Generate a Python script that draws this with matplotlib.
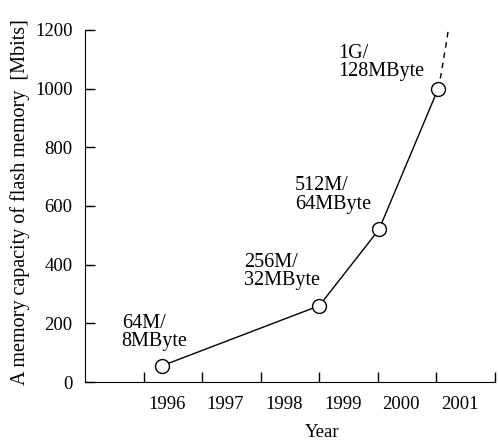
import matplotlib
matplotlib.use("Agg")
import matplotlib.pyplot as plt

plt.rcParams["font.family"] = ["Liberation Serif", "DejaVu Serif"]

# data
years = ["1996", "1997", "1998", "1999", "2000", "2001"]
point_x = [1.31, 4.0, 5.02, 6.03]
capacity = [55, 260, 520, 1000]
point_labels = ["64M/\n8MByte", "256M/\n32MByte", "512M/\n64MByte", "1G/\n128MByte"]
trend_x = [6.03, 6.08, 6.13, 6.18, 6.21]
trend_y = [1000, 1050, 1110, 1170, 1210]

fig = plt.figure(figsize=(4.99, 4.40), dpi=100)
ax = fig.add_axes([85 / 499, 1 - 382 / 440, 410 / 499, 352 / 440])

ax.plot(trend_x, trend_y, color="black", lw=1, ls=(0, (4, 3.5)), clip_on=False, zorder=2)
ax.plot(point_x, capacity, color="black", lw=1, marker="o", markersize=10,
        markerfacecolor="white", markeredgecolor="black", markeredgewidth=1, zorder=3)

# label offsets in pixels (top-left corner of the text)
offsets = [(-40, 52), (-75, 53), (-84, 53), (-100, 45)]
for x, y, t, o in zip(point_x, capacity, point_labels, offsets):
    ax.annotate(t, (x, y), xytext=o, textcoords="offset pixels",
                ha="left", va="top", fontsize=14.5, linespacing=0.95)

ax.set_xlim(0, 7)
ax.set_ylim(0, 1200)
ax.spines["top"].set_visible(False)
ax.spines["right"].set_visible(False)

ax.set_xticks(range(1, 8))
ax.set_xticklabels([])
ax.tick_params(axis="x", which="major", direction="in", length=7, width=1)
ax.set_xticks([i + 1.4 for i in range(len(years))], years, minor=True)
ax.tick_params(axis="x", which="minor", length=0, pad=10, labelsize=13.5)

ax.set_yticks(range(0, 1201, 200))
ax.tick_params(axis="y", direction="in", length=7, width=1, pad=9, labelsize=13.5)

ax.set_xlabel("Year", fontsize=13.5)
ax.xaxis.set_label_coords(0.578, -0.12)
ax.set_ylabel("A memory capacity of flash memory  [Mbits]", fontsize=14.5)
ax.yaxis.set_label_coords(-0.133, 0.51)

fig.savefig("out.png", dpi=100)
